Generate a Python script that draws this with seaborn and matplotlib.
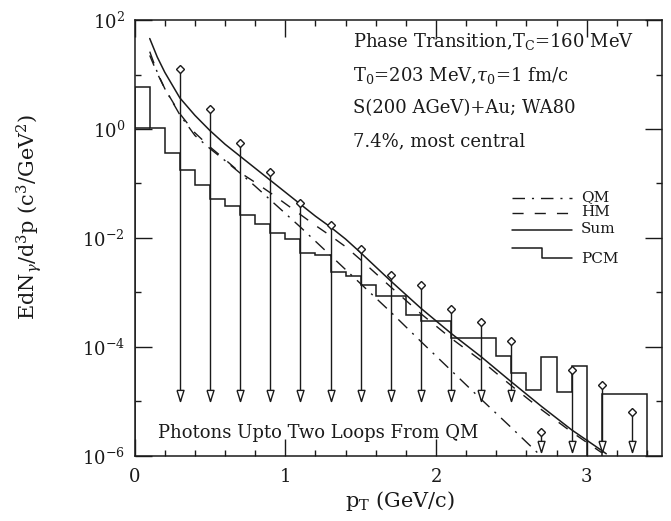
import numpy as np
import matplotlib
matplotlib.use("Agg")
import matplotlib.pyplot as plt
from matplotlib.ticker import FixedLocator, MultipleLocator, NullFormatter, LogFormatterSciNotation
import seaborn as sns

# curves, log10 of EdN/d3p
sum_pt = [0.1, 0.15, 0.2, 0.3, 0.4, 0.5, 0.6, 0.7, 0.8, 0.9, 1.0, 1.1, 1.2, 1.3, 1.4, 1.5,
          1.7, 1.9, 2.1, 2.3, 2.5, 2.7, 2.9, 3.1, 3.13]
sum_log = [1.66, 1.32, 1.04, 0.57, 0.25, -0.03, -0.28, -0.50, -0.72, -0.94, -1.16, -1.38, -1.60,
           -1.80, -2.02, -2.27, -2.79, -3.29, -3.75, -4.18, -4.64, -5.09, -5.52, -5.90, -5.96]

qm_pt = [0.1, 0.15, 0.2, 0.3, 0.4, 0.5, 0.6, 0.7, 0.8, 0.9, 1.0, 1.1, 1.2, 1.3, 1.4, 1.5,
         1.7, 1.9, 2.1, 2.3, 2.5, 2.7]
qm_log = [1.42, 1.04, 0.74, 0.26, -0.12, -0.36, -0.58, -0.81, -1.05, -1.30, -1.55, -1.80, -2.06,
          -2.32, -2.58, -2.84, -3.36, -3.90, -4.43, -4.96, -5.48, -6.01]

hm_pt = [0.1, 0.15, 0.2, 0.3, 0.4, 0.5, 0.6, 0.7, 0.8, 0.9, 1.0, 1.1, 1.2, 1.3, 1.4, 1.5,
         1.7, 1.9, 2.1, 2.3, 2.5, 2.7, 2.9, 3.1]
hm_log = [1.35, 1.02, 0.74, 0.28, -0.07, -0.33, -0.56, -0.80, -0.98, -1.17, -1.37, -1.57, -1.77,
          -1.96, -2.16, -2.40, -2.90, -3.39, -3.84, -4.25, -4.71, -5.15, -5.56, -5.94]

# PCM histogram, bins of 0.1 GeV from 0 to 3.4
pcm_edges = np.round(np.arange(0, 3.45, 0.1), 1)
pcm_vals = [6.0, 1.03, 0.37, 0.177, 0.094, 0.053, 0.039, 0.0264, 0.018, 0.0126,
            9.5e-3, 5.4e-3, 4.9e-3, 2.4e-3, 2.0e-3, 1.4e-3, 8.7e-4, 8.7e-4, 3.9e-4, 3.0e-4,
            3.0e-4, 1.45e-4, 1.45e-4, 1.45e-4, 6.8e-5, 3.4e-5, 1.6e-5, 6.5e-5, 1.5e-5, 4.4e-5,
            0.0, 1.4e-5, 1.4e-5, 1.38e-5]
pcm_first_low = 1.03

# WA80 upper limits
ul_pt = [0.3, 0.5, 0.7, 0.9, 1.1, 1.3, 1.5, 1.7, 1.9, 2.1, 2.3, 2.5, 2.7, 2.9, 3.1, 3.3]
ul_val = [12.6, 2.35, 0.56, 0.16, 0.044, 0.017, 0.0063, 0.0021, 1.35e-3, 4.9e-4, 2.9e-4,
          1.27e-4, 2.7e-6, 3.8e-5, 2.0e-5, 6.3e-6]
ul_tip = [1e-5] * 12 + [1.2e-6] * 4

sns.set_theme(style="ticks")
plt.rcParams['font.family'] = ['DejaVu Serif']
plt.rcParams['mathtext.fontset'] = 'dejavuserif'

fig = plt.figure(figsize=(6.71, 5.21), dpi=100)
ax = fig.add_axes([0.2007, 0.1248, 0.7859, 0.8368])
ax.set_yscale('log')

qm_style = (0, (9, 5, 1.5, 5))
hm_style = (0, (8, 8))

sns.lineplot(x=qm_pt, y=10 ** np.array(qm_log), ax=ax, color='k', lw=1, linestyle=qm_style)
sns.lineplot(x=hm_pt, y=10 ** np.array(hm_log), ax=ax, color='k', lw=1, linestyle=hm_style)
sns.lineplot(x=sum_pt, y=10 ** np.array(sum_log), ax=ax, color='k', lw=1.1)

ax.stairs(pcm_vals, pcm_edges, color='k', lw=1.1)
ax.hlines(pcm_first_low, pcm_edges[0], pcm_edges[1], color='k', lw=1.1)

# upper limit arrows
ax.vlines(ul_pt, ul_tip, ul_val, color='k', lw=1)
head = [(-0.63, 2), (0.63, 2), (0, 0), (-0.63, 2)]
ax.plot(ul_pt, ul_tip, ls='none', marker=head, ms=16, mfc='white', mec='k', mew=1, zorder=4)
ax.plot(ul_pt, ul_val, ls='none', marker='D', ms=4.2, mfc='white', mec='k', mew=1, zorder=4)

ax.set_xlim(0, 3.5)
ax.set_ylim(1e-6, 1e2)

ax.xaxis.set_major_locator(FixedLocator([0, 1, 2, 3]))
ax.xaxis.set_minor_locator(MultipleLocator(0.2))
ax.yaxis.set_major_locator(FixedLocator([1e-6, 1e-4, 1e-2, 1e0, 1e2]))
ax.yaxis.set_minor_locator(FixedLocator([1e-5, 1e-3, 1e-1, 1e1]))
ax.yaxis.set_major_formatter(LogFormatterSciNotation())
ax.yaxis.set_minor_formatter(NullFormatter())
ax.xaxis.set_major_formatter(matplotlib.ticker.FormatStrFormatter('%d'))

ax.tick_params(which='both', direction='in', top=True, right=True, colors='k', width=1)
ax.tick_params(which='major', length=12, labelsize=13)
ax.tick_params(axis='y', which='major', pad=7)
ax.tick_params(axis='x', which='major', pad=9)
ax.tick_params(which='minor', length=4.3)
for sp in ax.spines.values():
    sp.set_color('k')
    sp.set_linewidth(1.1)

ax.set_xlabel(r'p$_{\rm T}$ (GeV/c)', fontsize=15, color='k')
ax.set_ylabel(r'EdN$_\gamma$/d$^3$p (c$^3$/GeV$^2$)', fontsize=15, color='k')
ax.xaxis.set_label_coords(0.503, -0.076)
ax.yaxis.set_label_coords(-0.172, 0.548)

txt = dict(transform=ax.transAxes, fontsize=13, color='k', va='center', ha='left')
ax.text(0.414, 0.950, r'Phase Transition,T$_{\rm C}$=160 MeV', **txt)
ax.text(0.414, 0.872, r'T$_0$=203 MeV,$\tau_0$=1 fm/c', **txt)
ax.text(0.414, 0.798, 'S(200 AGeV)+Au; WA80', **txt)
ax.text(0.414, 0.722, '7.4%, most central', **txt)
ax.text(0.044, 0.053, 'Photons Upto Two Loops From QM', **txt)

# legend drawn by hand
lx0, lx1, ltx = 0.715, 0.829, 0.846
leg = dict(transform=ax.transAxes, color='k')
ax.plot([lx0, lx1], [0.592, 0.592], lw=1, ls=qm_style, **leg)
ax.plot([lx0, lx1], [0.557, 0.557], lw=1, ls=hm_style, **leg)
ax.plot([lx0, lx1], [0.518, 0.518], lw=1.1, **leg)
ax.plot([lx0, 0.772, 0.772, lx1], [0.478, 0.478, 0.454, 0.454], lw=1.1, **leg)
ltxt = dict(transform=ax.transAxes, fontsize=11, color='k', va='center', ha='left')
ax.text(ltx, 0.594, 'QM', **ltxt)
ax.text(ltx, 0.559, 'HM', **ltxt)
ax.text(ltx, 0.520, 'Sum', **ltxt)
ax.text(ltx, 0.452, 'PCM', **ltxt)

fig.savefig('out.png', dpi=100)
